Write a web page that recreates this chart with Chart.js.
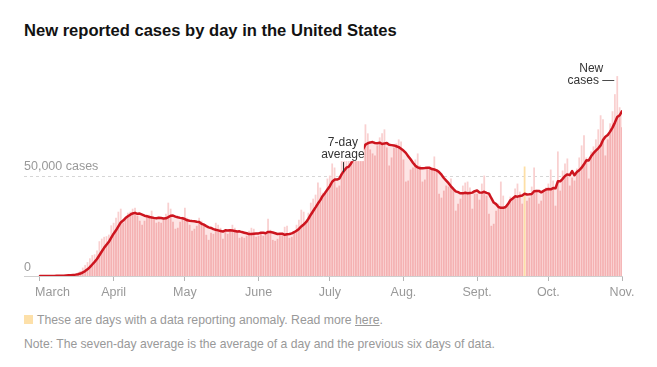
<!DOCTYPE html>
<html>
<head>
<meta charset="utf-8">
<script src="https://cdn.jsdelivr.net/npm/chart.js@4.4.1/dist/chart.umd.min.js"></script>
<style>
  body { margin: 0; background: #fff; width: 657px; height: 367px; overflow: hidden; position: relative;
         font-family: "Liberation Sans", Arial, sans-serif; }
  #title { position: absolute; left: 24px; top: 21px; line-height: 20px; font-size: 17px; font-weight: bold;
           color: #121212; white-space: nowrap; }
  #wrap { position: absolute; left: 0; top: 0; width: 657px; height: 310px; }
  .foot { position: absolute; white-space: nowrap; color: #999; line-height: 16px; font-size: 12.5px; }
  .foot u { text-decoration-color: #999; }
  #key { position: absolute; left: 24px; top: 315px; width: 9px; height: 9px; background: #fde0a9; }
</style>
</head>
<body>
<div id="title" data-w="373">New reported cases by day in the United States</div>
<div id="wrap"><canvas id="chart" width="657" height="310"></canvas></div>
<div id="key"></div>
<div class="foot" style="left:37px;top:312px" data-w="346">These are days with a data reporting anomaly. Read more <u>here</u>.</div>
<div class="foot" style="left:24px;top:336px" data-w="471">Note: The seven-day average is the average of a day and the previous six days of data.</div>
<script>
// casos nuevos por dia (1 de marzo -> 1 de noviembre)
const march = [20, 25, 30, 35, 70, 90, 130, 120, 190, 290, 420, 490, 690, 780, 950, 1200, 1800, 2600, 4200, 5500,
  6900, 8800, 10400, 10800, 12700, 17300, 18600, 19500, 19800, 20600, 25200];
const april = [26500, 29000, 32000, 33500, 26500, 29000, 31500, 32000, 33500, 34000, 30000, 27500, 25500, 27500, 30500,
  30500, 32500, 28500, 26500, 27000, 26500, 29000, 31000, 36500, 33500, 27000, 23500, 24000, 27000, 29500];
const may = [34000, 29000, 25500, 22500, 23500, 25000, 29000, 27500, 26000, 20500, 18000, 21500, 21000, 26500, 25500,
  24000, 18500, 22000, 21000, 22000, 25500, 24000, 22000, 19000, 19500, 19000, 20000, 22500, 24000, 23500, 19500];
const june = [20000, 21000, 20000, 21000, 28500, 23000, 18000, 17500, 18500, 20500, 21500, 24500, 25000, 19000, 19500,
  22500, 25500, 28000, 33000, 32000, 27000, 31500, 36500, 38500, 40500, 46500, 44000, 41500, 42000, 48500];
const july = [50000, 56000, 54000, 44000, 45000, 57500, 60000, 61000, 59500, 66000, 60000, 60000, 63000, 66000, 67000,
  75500, 71000, 63000, 61000, 60000, 65000, 69000, 71000, 73000, 64000, 55000, 59000, 64000, 66000, 68000, 67000];
const august = [58000, 47000, 47500, 53000, 54000, 58000, 61000, 55000, 47000, 48000, 54000, 54000, 53500, 59500, 52000,
  41000, 39000, 42500, 45000, 44500, 48500, 43000, 32500, 36000, 38500, 45000, 46500, 47000, 44000, 33500, 41000];
const september = [41000, 38000, 46000, 50000, 40000, 31000, 25000, 26000, 32500, 36000, 47000, 40000, 34000, 35000,
  39500, 38500, 43500, 46000, 42000, 36000, 54500, 37500, 39000, 44500, 54000, 43000, 36000, 37500, 42500, 44000];
const october = [46000, 53000, 47500, 35000, 62000, 42500, 52500, 56000, 58500, 45000, 49000, 47500, 53500, 59000,
  65000, 70000, 59000, 48500, 62000, 64500, 68000, 73000, 80000, 78000, 60000, 68000, 76000, 82000, 90500, 99500, 84000];
const november = [74000];

// dias con anomalia (indice desde el 1 de marzo): 21 de septiembre
const anomalyDays = [204];
const monthStarts = [0, 31, 61, 92, 122, 153, 184, 214, 245];
const monthLabels = ['\u2002\u2002\u2002\u2002March', 'April', 'May', 'June', 'July', 'Aug.', 'Sept.', 'Oct.', 'Nov.'];
const peakDay = 243;       // Oct. 30
const avgLabelDay = 127.5; // "7-day average"

const daily = [].concat(march, april, may, june, july, august, september, october, november);

// promedio de 7 dias: el dia y los seis anteriores (sin contar el dia con anomalia)
const avg = daily.map((v, i) => {
  const part = [];
  for (let j = Math.max(0, i - 6); j <= i; j++) {
    if (!anomalyDays.includes(j)) part.push(daily[j]);
  }
  return part.reduce((a, b) => a + b, 0) / part.length;
});

const FONT = '"Liberation Sans", Arial, sans-serif';

// ajustar textos html al ancho del original
document.querySelectorAll('[data-w]').forEach(el => {
  const w = el.getBoundingClientRect().width;
  const size = parseFloat(getComputedStyle(el).fontSize);
  el.style.fontSize = (size * Number(el.dataset.w) / w).toFixed(2) + 'px';
});

const underBars = [];
const upperBars = [];
const anomalyBars = [];
daily.forEach((v, i) => {
  if (anomalyDays.includes(i)) {
    anomalyBars.push({x: i, y: v});
    return;
  }
  underBars.push({x: i, y: Math.min(v, avg[i])});
  if (v > avg[i]) upperBars.push({x: i, y: [avg[i], v]});
});
const avgPoints = avg.map((v, i) => ({x: i, y: v}));

const notes = {
  id: 'notes',
  beforeDatasetsDraw(chart) {
    const {ctx, chartArea, scales: {y}} = chart;
    const y50 = Math.round(y.getPixelForValue(50000)) + 0.5;
    ctx.save();
    ctx.strokeStyle = '#d6d6d6';
    ctx.lineWidth = 1;
    ctx.setLineDash([3, 3]);
    ctx.beginPath();
    ctx.moveTo(chartArea.left, y50);
    ctx.lineTo(chartArea.right, y50);
    ctx.stroke();
    ctx.restore();
  },
  afterDatasetsDraw(chart) {
    const {ctx, chartArea, scales: {x, y}} = chart;
    ctx.save();
    ctx.font = '12.5px ' + FONT;
    ctx.fillStyle = '#999';
    ctx.textAlign = 'left';
    ctx.textBaseline = 'alphabetic';
    ctx.fillText('50,000 cases', chartArea.left, y.getPixelForValue(50000) - 5.5);
    ctx.fillText('0', chartArea.left, y.getPixelForValue(0) - 5);

    // 7-day average
    ctx.font = '12px ' + FONT;
    const ax = x.getPixelForValue(avgLabelDay);
    const ay = y.getPixelForValue(avg[Math.floor(avgLabelDay)]);
    ctx.fillStyle = '#fff';
    ctx.fillRect(ax - 21, ay - 40, 42, 27);
    ctx.fillStyle = '#333';
    ctx.textAlign = 'center';
    ctx.fillText('7-day', ax, ay - 28);
    ctx.fillText('average', ax, ay - 16);
    ctx.strokeStyle = '#333';
    ctx.lineWidth = 1;
    ctx.beginPath();
    ctx.moveTo(Math.round(ax) + 0.5, ay - 12);
    ctx.lineTo(Math.round(ax) + 0.5, ay - 2);
    ctx.stroke();

    // New cases
    const px = x.getPixelForValue(peakDay);
    const py = y.getPixelForValue(daily[peakDay]);
    ctx.textAlign = 'right';
    ctx.fillText('cases \u2014', px - 3, py + 8);
    ctx.textAlign = 'center';
    ctx.fillText('New', px - 26, py - 4);
    ctx.restore();
  }
};

new Chart(document.getElementById('chart'), {
  data: {
    datasets: [
      {
        type: 'line', data: avgPoints, borderColor: '#cd151f', borderWidth: 2.5, pointRadius: 0,
        fill: false, order: 0, borderJoinStyle: 'round', borderCapStyle: 'round'
      },
      {
        type: 'bar', data: anomalyBars, backgroundColor: '#fddfa6', grouped: false,
        barPercentage: 1, categoryPercentage: 0.75, order: 1
      },
      {
        type: 'bar', data: upperBars, backgroundColor: '#f9d0d0', grouped: false,
        barPercentage: 1, categoryPercentage: 0.75, order: 2
      },
      {
        type: 'bar', data: underBars, backgroundColor: '#f4b1b2', grouped: false,
        barPercentage: 1, categoryPercentage: 0.75, order: 3
      },
      {
        type: 'line', data: avgPoints, borderWidth: 0, pointRadius: 0, fill: 'origin',
        backgroundColor: '#fde5e5', order: 4
      }
    ]
  },
  options: {
    responsive: false,
    animation: false,
    layout: {padding: {left: 24, right: 35, top: 55, bottom: 6}},
    plugins: {legend: {display: false}, tooltip: {enabled: false}},
    scales: {
      x: {
        type: 'linear', min: -6.73, max: 245, offset: false,
        afterBuildTicks: (s) => { s.ticks = monthStarts.map(v => ({value: v})); },
        ticks: {
          callback: (v, i) => monthLabels[i], color: '#999', font: {family: FONT, size: 12.5},
          padding: 4, autoSkip: false, maxRotation: 0, minRotation: 0
        },
        grid: {offset: false, drawOnChartArea: false, drawTicks: true, tickLength: 5, color: '#b5b5b5'},
        border: {display: true, color: '#cfcfcf'}
      },
      y: {display: false, min: 0, max: 110000}
    }
  },
  plugins: [notes]
});
</script>
</body>
</html>
